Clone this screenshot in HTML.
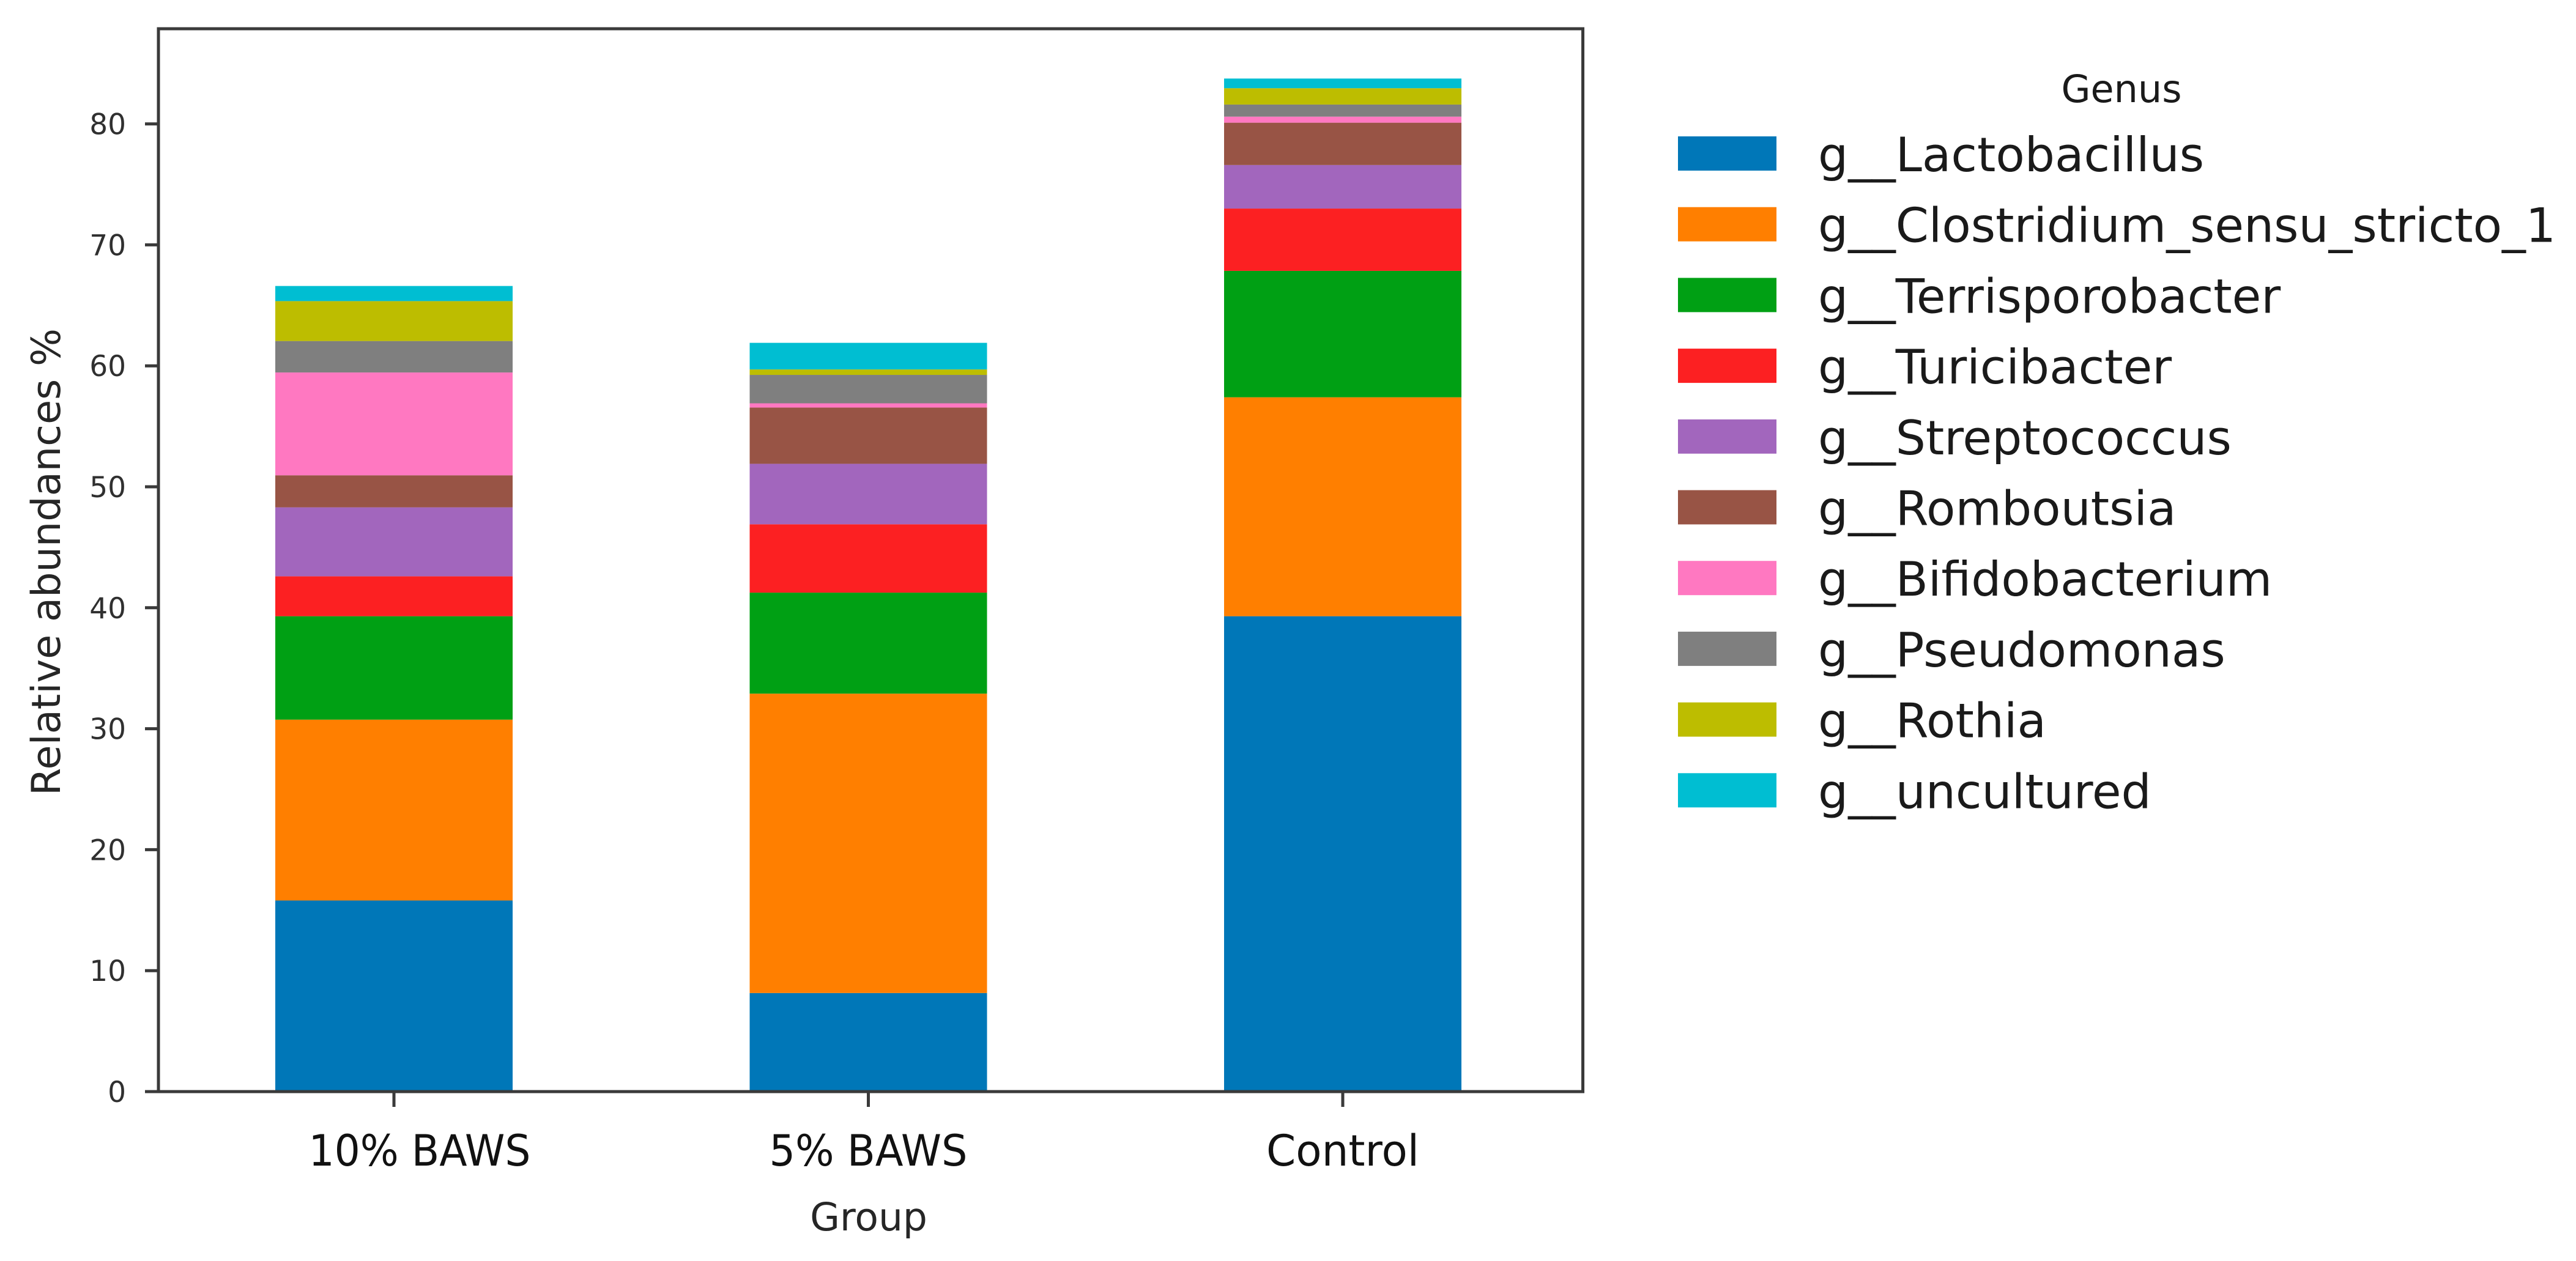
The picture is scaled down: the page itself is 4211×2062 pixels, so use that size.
<!DOCTYPE html>
<html lang="en">
<head>
<meta charset="utf-8">
<title>Relative abundances by genus</title>
<style>
html,body{margin:0;padding:0;background:#fff;}
svg{display:block;}
text{font-family:"DejaVu Sans","Liberation Sans",sans-serif;}
</style>
</head>
<body>
<svg id="chart" xmlns="http://www.w3.org/2000/svg" width="4211" height="2062" viewBox="0 0 4211 2062">
  <rect x="0" y="0" width="4211" height="2062" fill="#ffffff"/>
  <g id="bars"></g>
  <g id="frame" fill="none" stroke="#3a3a3a" stroke-width="5">
    <rect x="259" y="47" width="2328.5" height="1738"/>
  </g>
  <g id="y-axis"></g>
  <g id="x-axis"></g>
  <text transform="translate(98,1301) rotate(-90)" font-size="65" fill="#262626" textLength="764" lengthAdjust="spacingAndGlyphs">Relative abundances %</text>
  <text x="1420" y="2012" text-anchor="middle" font-size="63" fill="#262626">Group</text>
  <g id="legend">
    <text x="3468" y="167" text-anchor="middle" font-size="62" fill="#1a1a1a">Genus</text>
  </g>
</svg>
<script>
const categories = ["10% BAWS", "5% BAWS", "Control"];
const genusNames = ["g__Lactobacillus", "g__Clostridium_sensu_stricto_1", "g__Terrisporobacter", "g__Turicibacter", "g__Streptococcus", "g__Romboutsia", "g__Bifidobacterium", "g__Pseudomonas", "g__Rothia", "g__uncultured"];
const lactobacillus = [15.8, 8.15, 39.3];
const clostridium = [14.95, 24.75, 18.1];
const terrisporobacter = [8.55, 8.35, 10.45];
const turicibacter = [3.3, 5.65, 5.15];
const streptococcus = [5.7, 5.0, 3.6];
const romboutsia = [2.65, 4.65, 3.5];
const bifidobacterium = [8.5, 0.35, 0.5];
const pseudomonas = [2.6, 2.35, 1.0];
const rothia = [3.3, 0.45, 1.35];
const uncultured = [1.25, 2.2, 0.8];
const yTicks = [0, 10, 20, 30, 40, 50, 60, 70, 80];

const seriesList = [lactobacillus, clostridium, terrisporobacter, turicibacter, streptococcus, romboutsia, bifidobacterium, pseudomonas, rothia, uncultured];
const seriesColors = ["#0077b8", "#ff7f00", "#00a014", "#fc2022", "#a266bd", "#985445", "#ff78c1", "#7f7f7f", "#bdbd00", "#00bed2"];

const NS = "http://www.w3.org/2000/svg";
const baselineY = 1785;
const pxPerUnit = 19.78;
const firstCenterX = 644;
const centerStep = 775.5;
const barWidth = 388;
const firstLabelNudge = 42;
const xLabelWidths = [363, 324, 250];
const legendFirstCenter = 251;
const legendStep = 115.7;

function yScale(v) { return baselineY - v * pxPerUnit; }
function xScale(i) { return firstCenterX + i * centerStep; }
function legendY(i) { return legendFirstCenter + i * legendStep; }
function make(tag, attrs) {
  const el = document.createElementNS(NS, tag);
  for (const k in attrs) el.setAttribute(k, attrs[k]);
  return el;
}

const barsGroup = document.getElementById("bars");
categories.forEach(function (cat, c) {
  let running = 0;
  seriesList.forEach(function (series, s) {
    const v = series[c];
    const yTop = yScale(running + v);
    const yBottom = yScale(running);
    const rect = make("rect", { x: xScale(c) - barWidth / 2, y: yTop, width: barWidth, height: yBottom - yTop, fill: seriesColors[s] });
    
    
    barsGroup.appendChild(rect);
    running += v;
  });
});

const yAxis = document.getElementById("y-axis");
yTicks.forEach(function (t) {
  const y = yScale(t);
  const mark = make("line", { x1: 237, x2: 259, y1: y, y2: y, stroke: "#3a3a3a", "stroke-width": 5 });
  
  
  yAxis.appendChild(mark);
  const label = make("text", { x: 206, y: y + 17, "text-anchor": "end", "font-size": 47, fill: "#303030" });
  
  
  label.textContent = String(t);
  yAxis.appendChild(label);
});

const xAxis = document.getElementById("x-axis");
categories.forEach(function (cat, c) {
  const x = xScale(c);
  const mark = make("line", { x1: x, x2: x, y1: baselineY, y2: baselineY + 25, stroke: "#3a3a3a", "stroke-width": 5 });
  
  
  xAxis.appendChild(mark);
  const labelX = c === 0 ? x + firstLabelNudge : x;
  const label = make("text", { x: labelX, y: 1906, "text-anchor": "middle", "font-size": 70, fill: "#111111", textLength: xLabelWidths[c], lengthAdjust: "spacingAndGlyphs" });
  
  
  label.textContent = cat;
  xAxis.appendChild(label);
});

const legend = document.getElementById("legend");
genusNames.forEach(function (name, i) {
  const cy = legendY(i);
  const swatch = make("rect", { x: 2743, y: cy - 28, width: 161, height: 56, fill: seriesColors[i] });
  
  
  legend.appendChild(swatch);
  const label = make("text", { x: 2972, y: cy + 29, "font-size": 77.5, fill: "#1a1a1a" });
  
  
  label.textContent = name;
  legend.appendChild(label);
});
</script>
</body>
</html>
